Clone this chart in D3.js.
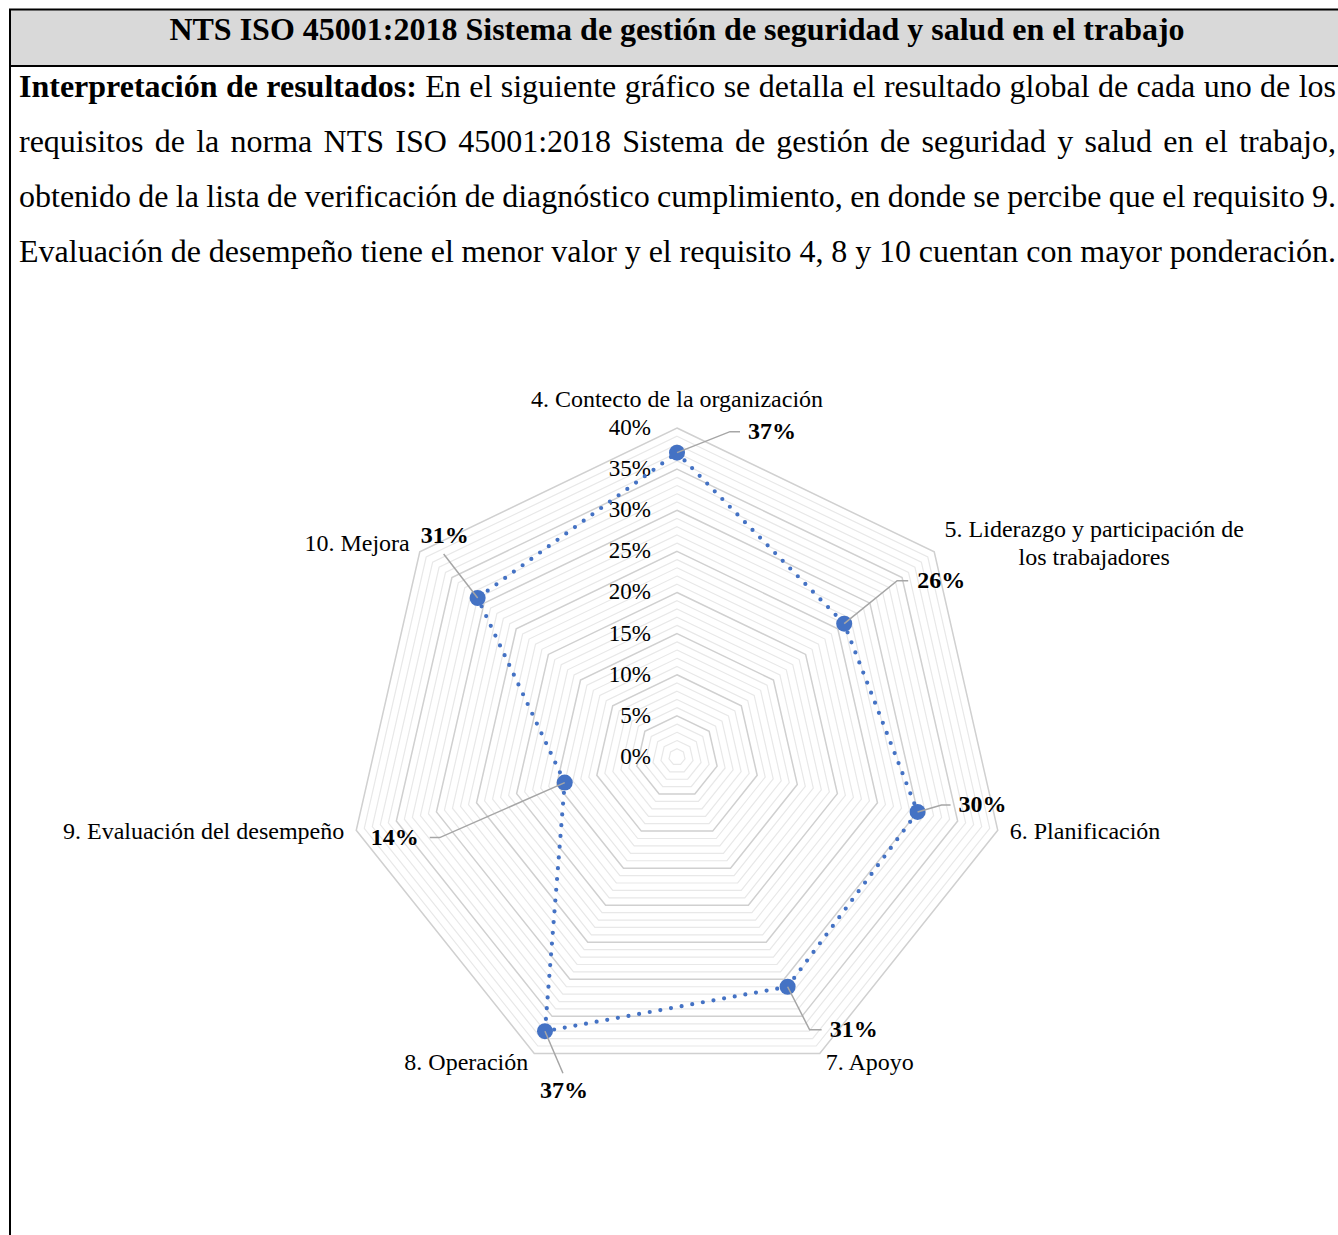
<!DOCTYPE html>
<html lang="es">
<head>
<meta charset="utf-8">
<script src="https://cdn.jsdelivr.net/npm/d3@7"></script>
<style>
  html, body { margin: 0; padding: 0; background: #fff; }
  svg { display: block; }
  text { font-family: "Liberation Serif", "Times New Roman", serif; fill: #000; }
</style>
</head>
<body>
<svg id="chart" width="1338" height="1235"></svg>
<script>
// Requisitos de la norma y su resultado global
const categories = [
  ["4. Contecto de la organización"],
  ["5. Liderazgo y participación de", "los trabajadores"],
  ["6. Planificación"],
  ["7. Apoyo"],
  ["8. Operación"],
  ["9. Evaluación del desempeño"],
  ["10. Mejora"]
];
const values = [0.37, 0.26, 0.30, 0.31, 0.37, 0.14, 0.31];
const tickValues = [0, 0.05, 0.10, 0.15, 0.20, 0.25, 0.30, 0.35, 0.40];
const minorStep = 0.01;

const titleText = "NTS ISO 45001:2018 Sistema de gestión de seguridad y salud en el trabajo";
const paragraphLines = [
  [{b: true, t: "Interpretación de resultados:"}, {b: false, t: "En el siguiente gráfico se detalla el resultado global de cada uno de los"}],
  [{b: false, t: "requisitos de la norma NTS ISO 45001:2018 Sistema de gestión de seguridad y salud en el trabajo,"}],
  [{b: false, t: "obtenido de la lista de verificación de diagnóstico cumplimiento, en donde se percibe que el requisito 9."}],
  [{b: false, t: "Evaluación de desempeño tiene el menor valor y el requisito 4, 8 y 10 cuentan con mayor ponderación."}]
];

const svg = d3.select("#chart");
const W = 1338, H = 1235;

// ---- Table frame and heading ----
svg.append("rect").attr("x", 10).attr("y", 10).attr("width", W).attr("height", 56).attr("fill", "#d9d9d9");
svg.append("line").attr("x1", 9).attr("x2", W).attr("y1", 9.5).attr("y2", 9.5).attr("stroke", "#000").attr("stroke-width", 2);
svg.append("line").attr("x1", 9).attr("x2", W).attr("y1", 66).attr("y2", 66).attr("stroke", "#000").attr("stroke-width", 2);
svg.append("line").attr("x1", 10).attr("x2", 10).attr("y1", 9).attr("y2", H).attr("stroke", "#000").attr("stroke-width", 2);

svg.append("text").attr("x", 677).attr("y", 40).attr("text-anchor", "middle")
  .attr("font-size", 32).attr("font-weight", "bold").text(titleText);

// Justified paragraph
const pLeft = 19, pRight = 1336, pFont = 32;
const measure = svg.append("text").attr("font-size", pFont).attr("visibility", "hidden");
function wordWidth(w, bold) {
  measure.attr("font-weight", bold ? "bold" : "normal").text(w);
  return measure.node().getComputedTextLength();
}
paragraphLines.forEach((line, i) => {
  const words = [];
  line.forEach(seg => seg.t.split(" ").forEach(w => words.push({w, b: seg.b})));
  words.forEach(d => d.width = wordWidth(d.w, d.b));
  const total = d3.sum(words, d => d.width);
  const gap = (pRight - pLeft - total) / (words.length - 1);
  let x = pLeft;
  const baseline = 97 + i * 55;
  words.forEach(d => {
    svg.append("text").attr("x", x).attr("y", baseline).attr("font-size", pFont)
      .attr("font-weight", d.b ? "bold" : "normal").text(d.w);
    x += d.width + gap;
  });
});
measure.remove();

// ---- Radar chart ----
const cx = 677, cy = 757, R = 329;
const n = categories.length;
const r = d3.scaleLinear().domain([0, 0.4]).range([0, R]);
const angle = i => i * 2 * Math.PI / n;
const pt = (i, v) => [cx + r(v) * Math.sin(angle(i)), cy - r(v) * Math.cos(angle(i))];

const g = svg.append("g");

// minor rings every 1%, major rings every 5%
const ringVals = d3.range(1, 41).map(k => k * minorStep);
const ringLine = d3.line().curve(d3.curveLinearClosed);
g.selectAll("path.ring").data(ringVals.filter(v => Math.round(v * 100) % 5 !== 0)).join("path")
  .attr("class", "ring")
  .attr("d", v => ringLine(d3.range(n).map(i => pt(i, v))))
  .attr("fill", "none").attr("stroke", "#e8e8e8").attr("stroke-width", 1.2);
g.selectAll("path.major").data(tickValues.filter(v => v > 0)).join("path")
  .attr("class", "major")
  .attr("d", v => ringLine(d3.range(n).map(i => pt(i, v))))
  .attr("fill", "none").attr("stroke", "#d0d0d0").attr("stroke-width", 1.5);

// tick labels along the top axis
g.selectAll("text.tick").data(tickValues).join("text")
  .attr("class", "tick")
  .attr("x", cx - 26).attr("y", v => cy - r(v)).attr("dy", "0.3em")
  .attr("text-anchor", "end").attr("font-size", 23)
  .text(d3.format(".0%"));

// category labels outside the outer ring
categories.forEach((lines, i) => {
  const a = angle(i);
  const [vx, vy] = pt(i, 0.4);
  const s = Math.sin(a), c = Math.cos(a);
  let x = vx, y = vy, anchor = "middle";
  if (c > 0.95) { y = vy - 28; }
  else if (c < -0.5) { x = vx + (s > 0 ? 6 : -6); y = vy + 9; anchor = s > 0 ? "start" : "end"; }
  else if (c > 0.3) {
    if (lines.length > 1) { x = vx + 160; y = vy - 8; anchor = "middle"; }
    else { x = vx - 10; y = vy - 8; anchor = "end"; }
  }
  else { x = vx + (s > 0 ? 12 : -12); y = vy + 2; anchor = s > 0 ? "start" : "end"; }
  const t = g.append("text").attr("font-size", 24).attr("text-anchor", anchor);
  lines.forEach((ln, k) => {
    t.append("tspan").attr("x", x).attr("y", y + (k - (lines.length - 1) / 2) * 28)
      .attr("dy", "0.3em").text(ln);
  });
});

// series line (dotted) and markers
const pts = values.map((v, i) => pt(i, v));
g.append("path").attr("d", ringLine(pts)).attr("fill", "none")
  .attr("stroke", "#4472c4").attr("stroke-width", 4.2)
  .attr("stroke-linecap", "round").attr("stroke-dasharray", "0 10.8");
g.selectAll("circle.mk").data(pts).join("circle").attr("class", "mk")
  .attr("cx", d => d[0]).attr("cy", d => d[1]).attr("r", 8).attr("fill", "#4472c4");

// data labels with leader lines: [elbow dx, elbow dy, tail length, label gap, anchor]
const labelLayout = [
  [53, -21, 10, 8, "start"],
  [53, -43, 11, 9, "start"],
  [24, -7, 9, 8, "start"],
  [22, 43, 12, 8, "start"],
  [18, 42, 0, 18, "middle"],
  [-125, 55, -10, 11, "end"],
  [-34, -44, 0, 18, "middle"]
];
pts.forEach((p, i) => {
  const [ex, ey, tail, gap, anchor] = labelLayout[i];
  const e = [p[0] + ex, p[1] + ey];
  const end = [e[0] + tail, e[1]];
  g.append("path").attr("d", d3.line()([p, e, end])).attr("fill", "none")
    .attr("stroke", "#a6a6a6").attr("stroke-width", 1.5);
  let tx, ty;
  if (anchor === "middle") { tx = e[0] + 1; ty = e[1] + (ey > 0 ? gap : -gap); }
  else { tx = end[0] + (anchor === "start" ? gap : -gap); ty = e[1]; }
  g.append("text").attr("x", tx).attr("y", ty).attr("dy", "0.3em")
    .attr("text-anchor", anchor).attr("font-size", 24).attr("font-weight", "bold")
    .text(d3.format(".0%")(values[i]));
});
</script>
</body>
</html>
